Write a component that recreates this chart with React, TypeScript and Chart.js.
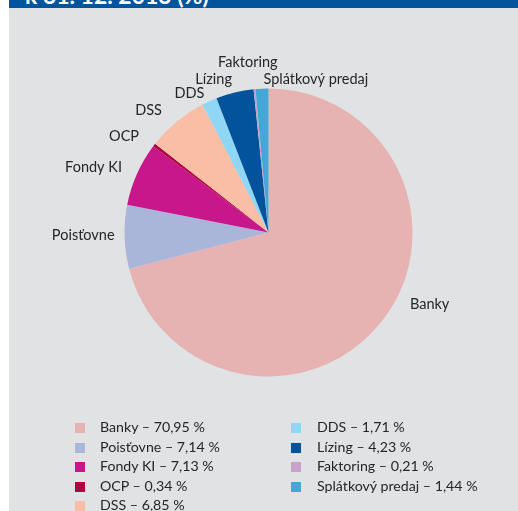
import React, { useEffect, useRef } from "react";
import { Chart, registerables } from "chart.js";

Chart.register(...registerables);

const categories = ["Banky", "Poisťovne", "Fondy KI", "OCP", "DSS", "DDS", "Lízing", "Faktoring", "Splátkový predaj"];
const shares = [70.95, 7.14, 7.13, 0.34, 6.85, 1.71, 4.23, 0.21, 1.44];
const shareLabels = ["70,95", "7,14", "7,13", "0,34", "6,85", "1,71", "4,23", "0,21", "1,44"];
const colors = ["#E6B2B2", "#AAB5DA", "#C8178B", "#B0063F", "#F9BEA5", "#8FD7F5", "#02539C", "#C9A2CB", "#42A8D6"];
const titleText = "k 31. 12. 2013 (%)";

const FONT = "Lato, 'Open Sans', sans-serif";
const TEXT = "#262626";

// label placement relative to arc mid-angle point (style / layout only)
const LABEL_PLACEMENT: { align: CanvasTextAlign; dx: number; dy: number }[] = [
  { align: "left", dx: 18, dy: -24 },
  { align: "right", dx: 2, dy: -2 },
  { align: "right", dx: -4, dy: -2 },
  { align: "right", dx: -5.5, dy: -1 },
  { align: "right", dx: -7, dy: -2.5 },
  { align: "right", dx: 0, dy: 3 },
  { align: "right", dx: 0, dy: -1.5 },
  { align: "center", dx: -5.5, dy: -14.6 },
  { align: "left", dx: 2, dy: 3 },
];

const outLabels = {
  id: "outLabels",
  afterDatasetsDraw(chart: any) {
    const meta = chart.getDatasetMeta(0);
    const ctx = chart.ctx;
    ctx.save();
    ctx.font = `14.5px ${FONT}`;
    ctx.fillStyle = TEXT;
    ctx.textBaseline = "middle";
    meta.data.forEach((arc: any, i: number) => {
      const p = arc.getProps(["x", "y", "startAngle", "endAngle", "outerRadius"], true);
      const mid = (p.startAngle + p.endAngle) / 2;
      const r = p.outerRadius + 12;
      const lp = LABEL_PLACEMENT[i];
      ctx.textAlign = lp.align;
      ctx.fillText(chart.data.labels[i], p.x + Math.cos(mid) * r + lp.dx, p.y + Math.sin(mid) * r + lp.dy);
    });
    ctx.restore();
  },
};

function PieChart() {
  const ref = useRef<HTMLCanvasElement | null>(null);
  useEffect(() => {
    if (!ref.current) return;
    const chart = new Chart(ref.current, {
      type: "pie",
      data: {
        labels: categories,
        datasets: [
          {
            data: shares,
            backgroundColor: colors,
            borderWidth: 0,
          },
        ],
      },
      options: {
        animation: false,
        responsive: true,
        maintainAspectRatio: false,
        layout: { padding: { left: 115.5, top: 80.5, right: 105.5, bottom: 134.5 } },
        plugins: {
          legend: { display: false },
          tooltip: { enabled: false },
        },
      },
      plugins: [outLabels],
    });
    return () => chart.destroy();
  }, []);
  return <canvas ref={ref} />;
}

export default function App() {
  const rowY = (r: number) => 418 + r * 19.6;
  return (
    <div style={{ position: "fixed", left: 0, top: 0, width: 518, height: 511, overflow: "hidden", background: "#fff" }}>
      <div style={{ position: "absolute", left: 9, top: 0, width: 509, height: 8, background: "#03539D", overflow: "hidden" }}>
        <div
          style={{
            position: "absolute",
            left: 16,
            top: -16.5,
            font: `bold 23px ${FONT}`,
            lineHeight: "23px",
            color: "#fff",
            whiteSpace: "nowrap",
          }}
        >
          {titleText}
        </div>
      </div>
      <div style={{ position: "absolute", left: 9, top: 8, width: 509, height: 503, background: "#E1E2E4" }}>
        <div style={{ position: "absolute", left: 0, top: 0, width: 509, height: 503 }}>
          <PieChart />
        </div>
      </div>
      {categories.map((c, i) => {
        const col = i < 5 ? 0 : 1;
        const row = i < 5 ? i : i - 5;
        const sx = col === 0 ? 75 : 291;
        const tx = col === 0 ? 100 : 317;
        const y = rowY(row);
        return (
          <React.Fragment key={c}>
            <div style={{ position: "absolute", left: sx, top: y + 5, width: 10, height: 10, background: colors[i] }} />
            <div
              style={{
                position: "absolute",
                left: tx,
                top: y,
                height: 20,
                lineHeight: "20px",
                font: `14.2px ${FONT}`,
                color: TEXT,
                whiteSpace: "nowrap",
              }}
            >
              {`${c} – ${shareLabels[i]} %`}
            </div>
          </React.Fragment>
        );
      })}
    </div>
  );
}
